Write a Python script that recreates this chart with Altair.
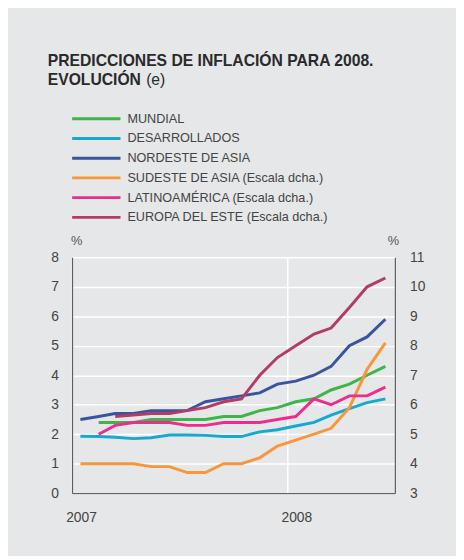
import altair as alt
import pandas as pd

# ---- data ----
fechas = ["2007/01/15", "2007/02/15", "2007/03/15", "2007/04/15", "2007/05/15", "2007/06/15",
          "2007/07/15", "2007/08/15", "2007/09/15", "2007/10/15", "2007/11/15", "2007/12/15",
          "2008/01/15", "2008/02/15", "2008/03/15", "2008/04/15", "2008/05/15", "2008/06/15"]

series = ["MUNDIAL", "DESARROLLADOS", "NORDESTE DE ASIA",
          "SUDESTE DE ASIA (Escala dcha.)", "LATINOAMÉRICA (Escala dcha.)",
          "EUROPA DEL ESTE (Escala dcha.)"]
colores = ["#3db54a", "#17a8d1", "#3a559f", "#f7973b", "#ec2d8d", "#b23c63"]

# left scale (%)
mundial = [None, 2.4, 2.4, 2.4, 2.5, 2.5, 2.5, 2.5, 2.6, 2.6, 2.8, 2.9, 3.1, 3.2, 3.5, 3.7, 4.0, 4.3]
desarrollados = [1.93, 1.92, 1.9, 1.85, 1.88, 1.97, 1.97, 1.96, 1.92, 1.92, 2.08, 2.15, 2.28, 2.4, 2.65, 2.87, 3.07, 3.2]
nordeste = [2.5, 2.6, 2.7, 2.7, 2.8, 2.8, 2.8, 3.1, 3.2, 3.3, 3.4, 3.7, 3.8, 4.0, 4.3, 5.0, 5.3, 5.9]
# right scale (%)
sudeste = [4.0, 4.0, 4.0, 4.0, 3.9, 3.9, 3.7, 3.7, 4.0, 4.0, 4.2, 4.6, 4.8, 5.0, 5.2, 5.9, 7.2, 8.1]
latam = [None, 5.0, 5.3, 5.4, 5.4, 5.4, 5.3, 5.3, 5.4, 5.4, 5.4, 5.5, 5.6, 6.2, 6.0, 6.3, 6.3, 6.6]
europa = [None, None, 5.6, 5.65, 5.7, 5.7, 5.8, 5.9, 6.1, 6.2, 7.0, 7.6, 8.0, 8.4, 8.6, 9.3, 10.0, 10.3]

izq_ticks = [0, 1, 2, 3, 4, 5, 6, 7, 8]
der_ticks = [3, 4, 5, 6, 7, 8, 9, 10, 11]

titulo_1 = "PREDICCIONES DE INFLACIÓN PARA 2008."
titulo_2 = "EVOLUCIÓN"
titulo_3 = "(e)"


def largo(nombres, valores):
    filas = []
    for n, vals in zip(nombres, valores):
        for f, v in zip(fechas, vals):
            if v is not None:
                filas.append({"fecha": f, "serie": n, "valor": v})
    return pd.DataFrame(filas)


df_izq = largo(series[:3], [mundial, desarrollados, nordeste])
df_der = largo(series[3:], [sudeste, latam, europa])

FONT = "Liberation Sans"
GRIS = "#e6e7e8"

x_enc = alt.X(
    "fecha:T",
    scale=alt.Scale(domain=[alt.DateTime(year=2007, month=1, date=1),
                            alt.DateTime(year=2008, month=7, date=1)]),
    axis=alt.Axis(
        values=[alt.DateTime(year=2007, month=1, date=1),
                alt.DateTime(year=2008, month=1, date=1)],
        format="%Y", title=None, grid=True, gridColor="white", gridWidth=1.5,
        ticks=False, tickSize=0, domain=True, domainColor="#444", domainWidth=1,
        labelFontSize=14, labelColor="#444", labelFont=FONT, labelPadding=18,
        labelOffset=9, labelFlush=False,
    ),
)

color_enc = alt.Color(
    "serie:N",
    scale=alt.Scale(domain=series, range=colores),
    sort=series,
    legend=alt.Legend(
        title=None, orient="none", legendX=-1.5, legendY=-150.5, direction="vertical",
        symbolType="stroke", symbolSize=2401, symbolStrokeWidth=3,
        labelFontSize=12.8, labelColor="#444", labelFont=FONT, labelLimit=0,
        labelOffset=5.5, rowPadding=0, clipHeight=20, padding=0, symbolOffset=0,
    ),
)

izq = alt.Chart(df_izq).mark_line(strokeWidth=3).encode(
    x=x_enc,
    y=alt.Y("valor:Q", scale=alt.Scale(domain=[0, 8], nice=False),
            axis=alt.Axis(orient="left", values=izq_ticks, format="d", title="%",
                          titleAngle=0, titleX=4, titleY=-17, titleAlign="center",
                          titleBaseline="middle", titleFontSize=13, titleFontWeight="normal",
                          titleColor="#555", titleFont=FONT,
                          grid=True, gridColor="white", gridWidth=1.5,
                          ticks=False, tickSize=0, domain=True, domainColor="#444",
                          domainWidth=1, labelFontSize=14, labelColor="#444",
                          labelFont=FONT, labelPadding=14)),
    color=color_enc,
)

der = alt.Chart(df_der).mark_line(strokeWidth=3).encode(
    x=x_enc,
    y=alt.Y("valor:Q", scale=alt.Scale(domain=[3, 11], nice=False),
            axis=alt.Axis(orient="right", values=der_ticks, format="d", title="%",
                          titleAngle=0, titleX=-2, titleY=-17, titleAlign="center",
                          titleBaseline="middle", titleFontSize=13, titleFontWeight="normal",
                          titleColor="#555", titleFont=FONT,
                          grid=False, ticks=False, tickSize=0, domain=True,
                          domainColor="#444", domainWidth=1, labelFontSize=14,
                          labelColor="#444", labelFont=FONT, labelPadding=15)),
    color=color_enc,
)

t1 = alt.Chart(pd.DataFrame({"t": [titulo_1]})).mark_text(
    align="left", baseline="alphabetic", font=FONT, fontSize=15.9, fontWeight="bold",
    color="#2a2a2a").encode(text="t:N", x=alt.value(-24.7), y=alt.value(-194.3))
t2 = alt.Chart(pd.DataFrame({"t": [titulo_2]})).mark_text(
    align="left", baseline="alphabetic", font=FONT, fontSize=15.9, fontWeight="bold",
    color="#2a2a2a").encode(text="t:N", x=alt.value(-24.7), y=alt.value(-174.3))
t3 = alt.Chart(pd.DataFrame({"t": [titulo_3]})).mark_text(
    align="left", baseline="alphabetic", font=FONT, fontSize=15.9, fontWeight="normal",
    color="#2a2a2a").encode(text="t:N", x=alt.value(75), y=alt.value(-174.3))

chart = alt.layer(izq, der, t1, t2, t3).resolve_scale(y="independent").properties(
    width=327, height=239,
    autosize=alt.AutoSizeParams(type="none"),
    padding={"left": 65, "top": 249, "right": 62, "bottom": 60},
    background=GRIS,
).configure_view(stroke=None)

chart.save("out.html", embed_options={"renderer": "svg", "actions": False})
